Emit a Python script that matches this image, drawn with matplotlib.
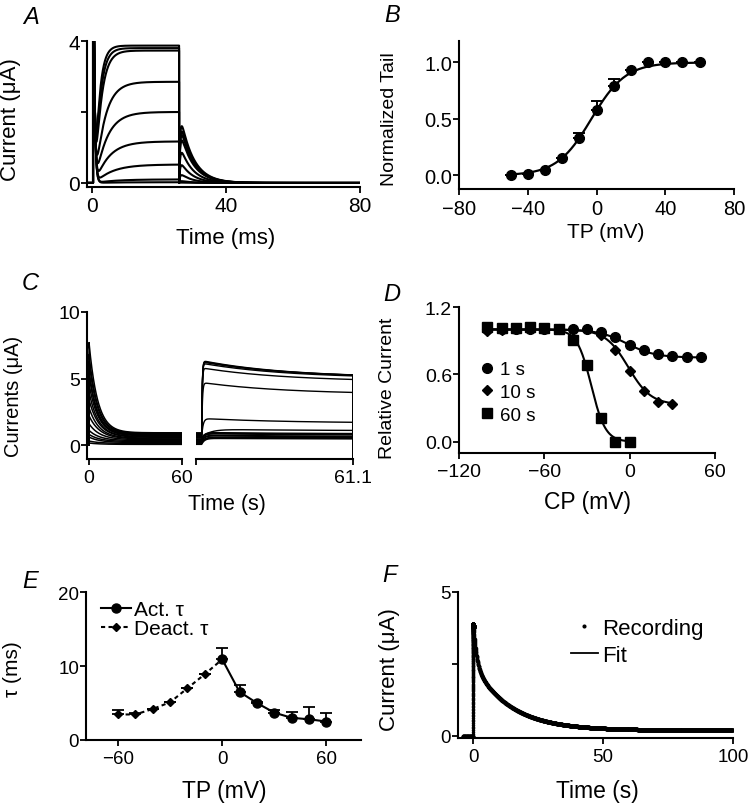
import numpy as np
import matplotlib
matplotlib.use("Agg")
import matplotlib.pyplot as plt

plt.rcParams['font.family'] = ['Liberation Sans', 'DejaVu Sans']

W, H = 754, 812

# ---------------- Panel A : current family (per-trace parameters)
A_steady = [3.87, 3.80, 3.73, 2.85, 2.00, 1.17, 0.52, 0.10, 0.02]   # uA
A_tau_act = [1.3, 1.5, 1.8, 2.8, 3.4, 4.0, 5.0, 6.0, 6.0]          # ms
A_tail_peak = [1.60, 1.45, 1.35, 1.20, 0.85, 0.50, 0.22, 0.05, 0.01]
A_tail_tau = [3.8, 3.8, 3.8, 3.8, 3.6, 3.5, 3.5, 3.5, 3.5]
A_pulse_end = 26.0
A_cap_peak = 4.3
A_xticks = [0, 40, 80]
A_yticks = [0, 2, 4]
A_yticklabels = ['0', '', '4']

# ---------------- Panel B : normalized tail
B_tp = [-50, -40, -30, -20, -10, 0, 10, 20, 30, 40, 50, 60]
B_tail = [0.0, 0.01, 0.05, 0.15, 0.33, 0.58, 0.79, 0.93, 1.0, 1.0, 1.0, 1.0]
B_err = [0, 0, 0, 0, 0.05, 0.08, 0.06, 0, 0, 0, 0, 0]
B_fit_v50, B_fit_k = -3.0, 10.0
B_xticks = [-80, -40, 0, 40, 80]
B_yticks = [0.0, 0.5, 1.0]

# ---------------- Panel C : conditioning (0-60 s) and test (60-61.1 s) currents
C_cond_peak = [7.7, 6.8, 6.3, 5.6, 5.3, 4.6, 4.0, 3.4, 2.8, 2.2, 1.6, 1.1, 0.8, 0.6, 0.3, 0.15]
C_cond_tau = [5.5, 5.5, 5.5, 5.5, 5.5, 6.0, 6.0, 6.5, 6.5, 7.0, 7.0, 7.0, 7.0, 7.0, 7.0, 7.0]
C_cond_ss = [0.92, 0.88, 0.84, 0.80, 0.75, 0.70, 0.64, 0.58, 0.52, 0.46, 0.40, 0.33, 0.26, 0.19, 0.12, 0.05]
C_test_peak = [6.35, 6.30, 6.25, 6.15, 5.80, 4.70, 2.00, 1.20, 0.95, 0.90, 0.85, 0.75, 0.70, 0.60, 0.55, 0.50]
C_test_plateau = [5.05, 5.05, 5.05, 5.00, 4.75, 3.80, 1.65, 1.08, 0.85, 0.80, 0.75, 0.65, 0.60, 0.55, 0.50, 0.45]
C_test_rise = [0.004, 0.004, 0.004, 0.004, 0.004, 0.005, 0.01, 0.06,
               0.02, 0.02, 0.02, 0.02, 0.02, 0.02, 0.02, 0.02]
C_test_tau = 0.6
C_test_start = 60.04
C_test_end = 61.1
C_yticks = [0, 5, 10]

# ---------------- Panel D : inactivation
D_cp1 = [-100, -90, -80, -70, -60, -50, -40, -30, -20, -10, 0, 10, 20, 30, 40, 50]
D_rel1 = [1.0, 1.0, 1.0, 1.0, 1.0, 1.0, 1.0, 1.0, 0.98, 0.93, 0.865, 0.815, 0.78, 0.76, 0.755, 0.755]
D_cp10 = [-100, -90, -80, -70, -60, -50, -40, -30, -20, -10, 0, 10, 20, 30]
D_rel10 = [0.99, 0.995, 1.0, 1.0, 1.0, 1.0, 1.0, 1.0, 0.95, 0.82, 0.63, 0.45, 0.35, 0.34]
D_cp60 = [-100, -90, -80, -70, -60, -50, -40, -30, -20, -10, 0]
D_rel60 = [1.02, 1.01, 1.01, 1.02, 1.01, 1.0, 0.91, 0.68, 0.21, 0.0, 0.0]
D_fit1 = [0.75, -2.0, 10.0]    # bottom, V1/2, k
D_fit10 = [0.33, -1.0, 8.0]
D_fit60 = [0.0, -27.0, 5.0]
D_xticks = [-120, -60, 0, 60]
D_yticks = [0.0, 0.6, 1.2]

# ---------------- Panel E : time constants
E_act_tp = [0, 10, 20, 30, 40, 50, 60]
E_act_tau = [10.9, 6.5, 5.0, 3.7, 3.0, 2.8, 2.5]
E_act_err = [1.5, 0.9, 0.2, 0.3, 0.8, 1.6, 1.2]
E_deact_tp = [-60, -50, -40, -30, -20, -10]
E_deact_tau = [3.45, 3.45, 4.2, 5.1, 7.0, 8.9]
E_deact_err = [0.6, 0.2, 0, 0, 0, 0]
E_xticks = [-60, 0, 60]
E_yticks = [0, 10, 20]

# ---------------- Panel F : long decay (recording + bi-exponential fit)
F_base = 0.2
F_amp = [1.55, 2.30]
F_tau = [1.2, 14.0]
F_t_start, F_t_end = -4.0, 100.0
F_xticks = [0, 50, 100]
F_yticks = [0, 2.5, 5]
F_yticklabels = ['0', '', '5']

fig = plt.figure(figsize=(W / 100, H / 100), dpi=100)


def ax_px(x0, y0, x1, y1):
    return fig.add_axes([x0 / W, 1 - y1 / H, (x1 - x0) / W, (y1 - y0) / H])


def fx(p):
    return p / W


def fy(p):
    return 1 - p / H


def style(ax, ls=14):
    for s in ('top', 'right'):
        ax.spines[s].set_visible(False)
    for s in ('left', 'bottom'):
        ax.spines[s].set_linewidth(1.5)
    ax.tick_params(axis='both', direction='out', length=4, width=1.3, labelsize=ls)
    ax.tick_params(axis='x', pad=3)
    ax.tick_params(axis='y', pad=1)


def xlab(ax, text, cx, top, size):
    ax.set_xlabel(text, fontsize=size)
    ax.xaxis.set_label_coords(fx(cx), fy(top), transform=fig.transFigure)


def ylab(ax, text, right, cy, size):
    ax.set_ylabel(text, fontsize=size)
    ax.yaxis.set_label_coords(fx(right), fy(cy), transform=fig.transFigure)


# ======================= A
axA = ax_px(87, 42, 360, 187.5)
style(axA, 15)
tA = np.concatenate([[-1.5, 0.3], np.linspace(0.3, 80, 4000)])
for ss, ta, tp, tt in zip(A_steady, A_tau_act, A_tail_peak, A_tail_tau):
    i = np.zeros_like(tA)
    post = tA >= 0.3
    cap = A_cap_peak * np.exp(-np.clip(tA - 0.6, 0, None) / 0.35)
    i[post] += cap[post]
    act = (tA >= 1.0) & (tA < A_pulse_end)
    i[act] += ss * (1 - np.exp(-(tA[act] - 1.0) / ta))
    tl = tA >= A_pulse_end
    s = tA[tl] - A_pulse_end
    f = (1 - np.exp(-s / 0.3)) * np.exp(-s / tt)
    i[tl] += tp * f / f.max()
    i[0] = 0.0
    i[1] = 0.0
    axA.plot(tA, i, color='k', lw=1.5)
axA.set_xlim(-1.5, 80)
axA.set_ylim(-0.1, 4)
axA.set_xticks(A_xticks)
axA.set_yticks(A_yticks)
axA.set_yticklabels(A_yticklabels)
xlab(axA, 'Time (ms)', 226, 228, 16)
ylab(axA, 'Current (\u03bcA)', 21, 120, 16)

# ======================= B
axB = ax_px(459, 42, 734, 190)
style(axB, 14.5)
vf = np.linspace(min(B_tp), max(B_tp), 300)
axB.plot(vf, 1 / (1 + np.exp(-(vf - B_fit_v50) / B_fit_k)), color='k', lw=1.6)
axB.errorbar(B_tp, B_tail, yerr=[np.zeros(len(B_err)), B_err], fmt='none',
             ecolor='k', elinewidth=1.4, capsize=4, capthick=1.4)
axB.plot(B_tp, B_tail, ls='none', marker='o', ms=7, color='k', zorder=5)
axB.set_xlim(-80, 80)
axB.set_ylim(-0.12, 1.19)
axB.set_xticks(B_xticks)
axB.set_yticks(B_yticks)
axB.set_yticklabels(['%.1f' % v for v in B_yticks])
xlab(axB, 'TP (mV)', 606, 223, 15)
ylab(axB, 'Normalized Tail', 398, 119, 14)

# ======================= C (broken x axis)
axC1 = ax_px(87, 313, 182, 460)
axC2 = ax_px(196, 313, 353, 460)
style(axC1, 14)
style(axC2, 14)
tC1 = np.concatenate([[-1.3, 0.0], np.linspace(0, 59.5, 1500)])
for pk, tau, ss in zip(C_cond_peak, C_cond_tau, C_cond_ss):
    i = ss + (pk - ss) * np.exp(-np.clip(tC1, 0, None) / tau)
    i[0] = 0.0
    i[1] = 0.0
    axC1.plot(tC1, i, color='k', lw=1.1)
tC2 = np.concatenate([[60.0, C_test_start], np.linspace(C_test_start, C_test_end, 800), [C_test_end]])
for ss, pk, pl, rt in zip(C_cond_ss, C_test_peak, C_test_plateau, C_test_rise):
    s = np.clip(tC2 - C_test_start, 0, None)
    target = pl + (pk - pl) * np.exp(-s / C_test_tau)
    i = ss + (target - ss) * (1 - np.exp(-s / rt))
    i[-1] = -1.0
    axC2.plot(tC2, i, color='k', lw=1.0)
for a in (axC1, axC2):
    a.set_ylim(-1.05, 10)
axC1.set_xlim(-1.3, 60)
axC2.set_xlim(60, 61.1)
axC1.set_xticks([0, 60])
axC1.set_yticks(C_yticks)
axC2.set_xticks([60, 61.1])
axC2.set_xticklabels(['', '61.1'])
axC2.spines['left'].set_visible(False)
axC2.tick_params(axis='y', left=False, labelleft=False)
xlab(axC1, 'Time (s)', 227, 494, 15.5)
ylab(axC1, 'Currents (\u03bcA)', 23, 396, 14.5)

# ======================= D
axD = ax_px(459, 308, 715, 454)
style(axD, 14)
for cp, (b, v50, k) in ((D_cp1, D_fit1), (D_cp10, D_fit10), (D_cp60, D_fit60)):
    v = np.linspace(min(cp), max(cp), 300)
    axD.plot(v, b + (1 - b) / (1 + np.exp((v - v50) / k)), color='k', lw=1.5)
axD.plot(D_cp1, D_rel1, ls='none', marker='o', ms=7, color='k', label='1 s', zorder=5)
axD.plot(D_cp10, D_rel10, ls='none', marker='D', ms=5, color='k', label='10 s', zorder=5)
axD.plot(D_cp60, D_rel60, ls='none', marker='s', ms=6.8, color='k', label='60 s', zorder=6)
axD.set_xlim(-120, 60)
axD.set_ylim(-0.1, 1.2)
axD.set_xticks(D_xticks)
axD.set_yticks(D_yticks)
axD.set_yticklabels(['%.1f' % v for v in D_yticks])
axD.legend(loc='upper left', bbox_to_anchor=(fx(479), fy(362)), bbox_transform=fig.transFigure,
           frameon=False, fontsize=13.5, handlelength=0.8, handletextpad=0.3,
           labelspacing=0.3, borderpad=0, borderaxespad=0)
xlab(axD, 'CP (mV)', 588, 491, 16.5)
ylab(axD, 'Relative Current', 396, 388, 14)

# ======================= E
axE = ax_px(86, 593, 361, 741)
style(axE, 13.5)
axE.errorbar(E_act_tp, E_act_tau, yerr=[np.zeros(len(E_act_err)), E_act_err], fmt='none',
             ecolor='k', elinewidth=1.3, capsize=4, capthick=1.3)
axE.errorbar(E_deact_tp, E_deact_tau, yerr=[np.zeros(len(E_deact_err)), E_deact_err], fmt='none',
             ecolor='k', elinewidth=1.3, capsize=4, capthick=1.3)
axE.plot(E_act_tp, E_act_tau, color='k', lw=1.5, marker='o', ms=6.5, label='Act. \u03c4', zorder=5)
dx = list(E_deact_tp) + [E_act_tp[0]]
dy = list(E_deact_tau) + [E_act_tau[0]]
axE.plot(dx, dy, color='k', lw=1.5, ls=(0, (2, 1.6)), marker='D', ms=4.2,
         markevery=list(range(len(E_deact_tp))), label='Deact. \u03c4', zorder=4)
axE.set_xlim(-78.5, 80)
axE.set_ylim(0, 20)
axE.set_xticks(E_xticks)
axE.set_yticks(E_yticks)
axE.legend(loc='upper left', bbox_to_anchor=(fx(101), fy(601)), bbox_transform=fig.transFigure,
           frameon=False, fontsize=15, handlelength=1.45, handletextpad=0.15,
           labelspacing=0.0, borderpad=0, borderaxespad=0)
xlab(axE, 'TP (mV)', 224, 780, 16.5)
ylab(axE, '\u03c4 (ms)', 22, 669, 15)

# ======================= F
axF = ax_px(458, 593, 733, 739)
style(axF, 13.5)
tF = np.concatenate([np.linspace(F_t_start, 0, 60), np.linspace(0, 0.2, 600),
                     np.linspace(0.2, F_t_end, 2600)])
tpos = np.clip(tF, 0, None)
decay = F_base + F_amp[0] * np.exp(-tpos / F_tau[0]) + F_amp[1] * np.exp(-tpos / F_tau[1])
rec = np.where(tF < 0, 0.0, decay * (1 - np.exp(-tpos / 0.02)))
axF.plot(tF, rec, ls='none', marker='.', ms=3, color='k', label='Recording')
tfit = np.linspace(0.12, F_t_end, 1200)
fit = F_base + F_amp[0] * np.exp(-tfit / F_tau[0]) + F_amp[1] * np.exp(-tfit / F_tau[1])
axF.plot(tfit, fit, color='k', lw=1.3, label='Fit')
axF.set_xlim(-5.8, 100)
axF.set_ylim(-0.07, 5)
axF.set_xticks(F_xticks)
axF.set_yticks(F_yticks)
axF.set_yticklabels(F_yticklabels)
axF.legend(loc='upper left', bbox_to_anchor=(fx(571), fy(619)), bbox_transform=fig.transFigure,
           frameon=False, fontsize=16, handlelength=1.2, handletextpad=0.2,
           labelspacing=0.25, borderpad=0, borderaxespad=0, markerscale=1.3)
xlab(axF, 'Time (s)', 597, 780, 16.5)
ylab(axF, 'Current (\u03bcA)', 400, 670, 16)

# ======================= panel letters
for letter, x, y in (('A', 31, 17), ('B', 392, 16), ('C', 30, 283),
                     ('D', 392, 295), ('E', 30, 582), ('F', 389, 576)):
    fig.text(fx(x), fy(y), letter, fontsize=17, style='italic', ha='center', va='center')

fig.savefig('out.png', dpi=100)
